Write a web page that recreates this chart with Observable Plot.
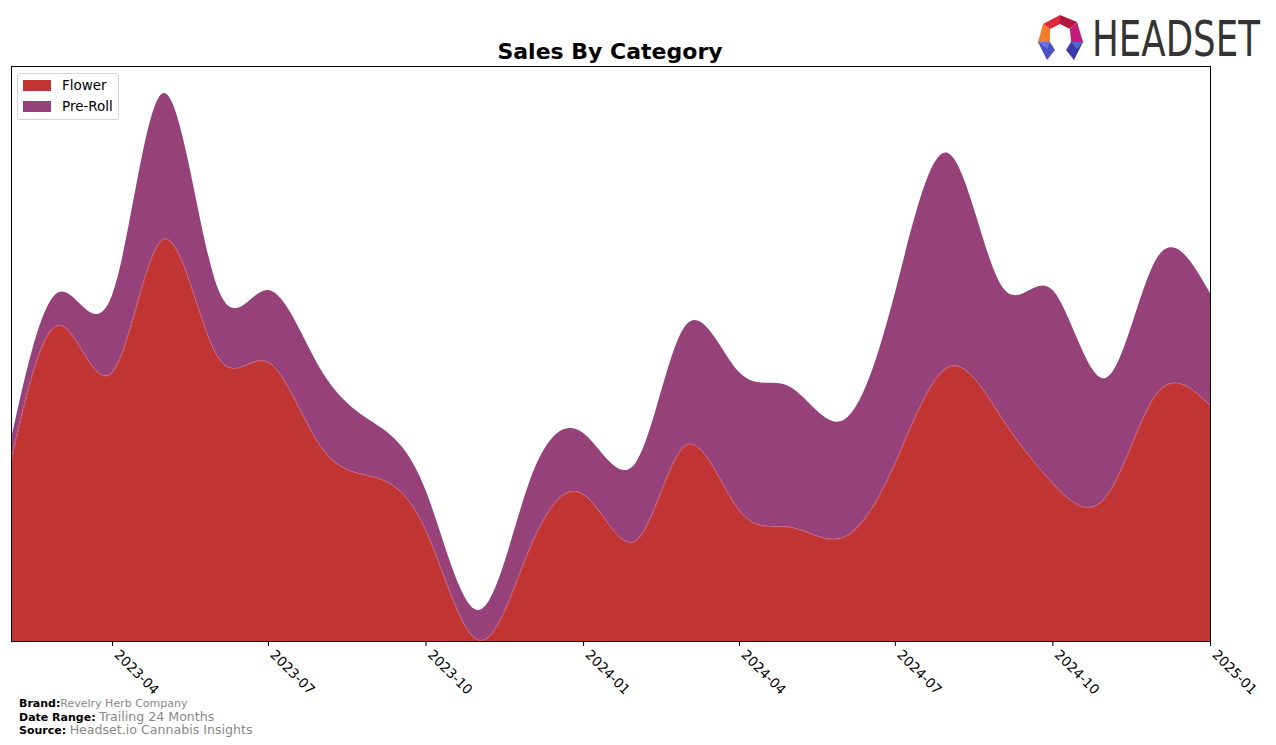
<!DOCTYPE html>
<html>
<head>
<meta charset="utf-8">
<script src="https://cdn.jsdelivr.net/npm/d3@7"></script>
<script src="https://cdn.jsdelivr.net/npm/@observablehq/plot@0.6"></script>
<style>
  html, body { margin: 0; padding: 0; background: #fff; }
  #wrap { position: relative; width: 1276px; height: 745px; overflow: hidden; font-family: "DejaVu Sans", sans-serif; }
  #chart { position: absolute; left: 0; top: 0; }
  #title { position: absolute; left: 410px; width: 400px; top: 39px; text-align: center; font-weight: bold; font-size: 22px; color: #000; white-space: nowrap; }
  #legend { position: absolute; left: 17px; top: 73px; width: 100px; height: 45px; border: 1px solid #d5d5d5; border-radius: 3px; background: #fff; font-size: 13.5px; }
  .li { position: absolute; left: 5px; height: 14px; display: flex; align-items: center; }
  .sw { width: 28px; height: 11px; margin-right: 11px; }
  #footer { position: absolute; left: 19px; top: 698px; font-size: 11px; line-height: 12.5px; color: #000; white-space: nowrap; }
  #footer b { font-weight: bold; }
  .g { color: #888; }
  .g2 { color: #888; font-size: 12.6px; }
  #logo { position: absolute; left: 1030px; top: 10px; }
</style>
</head>
<body>
<div id="wrap">
  <div id="chart"></div>
  <div id="title">Sales By Category</div>
  <div id="legend"></div>
  <svg id="logo" width="240" height="56" viewBox="1030 10 240 56">
    <polygon points="1043,24 1060,15 1060,24 1050,29" fill="#e0283c"/>
    <polygon points="1060,15 1077,22 1070,29 1060,24" fill="#b0163a"/>
    <polygon points="1043,24 1050,29 1050,42 1038,42" fill="#f47c2a"/>
    <polygon points="1077,22 1083,42 1071,42 1070,29" fill="#c21a78"/>
    <polygon points="1038,42 1050,42 1055,50 1047,60" fill="#4a4fc8"/>
    <polygon points="1071,42 1083,42 1074,60 1066,50" fill="#3a3aa8"/>
    <polygon points="1038,42 1050,42 1047,49" fill="#6a72e0"/>
    <polygon points="1071,42 1083,42 1077,49" fill="#5a62d8"/>
    <text transform="scale(1,1.38)" x="1092" y="40.6" font-family="'DejaVu Sans', sans-serif" font-size="36" fill="#333" textLength="168" lengthAdjust="spacingAndGlyphs">HEADSET</text>
  </svg>
  <div id="footer">
    <div><b>Brand:</b><span class="g">Revelry Herb Company</span></div>
    <div><b>Date Range:</b> <span class="g2">Trailing 24 Months</span></div>
    <div><b>Source:</b> <span class="g2">Headset.io Cannabis Insights</span></div>
  </div>
</div>
<script>
// Monthly data (arbitrary units)
const months = [
  "2023-02-01","2023-03-01","2023-04-01","2023-05-01","2023-06-01","2023-07-01",
  "2023-08-01","2023-09-01","2023-10-01","2023-11-01","2023-12-01","2024-01-01",
  "2024-02-01","2024-03-01","2024-04-01","2024-05-01","2024-06-01","2024-07-01",
  "2024-08-01","2024-09-01","2024-10-01","2024-11-01","2024-12-01","2025-01-01"
];
const flower = [181, 316, 269, 402, 286, 279, 194, 164, 111, 1, 94, 147,
                101, 196, 131, 114, 104, 178, 274, 224, 158, 144, 248, 236];
const preRoll = [20, 33, 77, 146, 70, 72, 77, 54, 40, 30, 67, 61,
                 78, 120, 138, 140, 117, 170, 214, 132, 193, 119, 135, 112];
const categories = ["Flower", "Pre-Roll"];
const colors = ["#c03434", "#964179"];
const tickLabels = ["2023-04","2023-07","2023-10","2024-01","2024-04","2024-07","2024-10","2025-01"];

const parse = d3.utcParse("%Y-%m-%d");
const parseTick = d3.utcParse("%Y-%m");
const tickDates = tickLabels.map(parseTick);
const rows = [];
months.forEach((m, i) => {
  rows.push({date: parse(m), category: "Flower", value: flower[i]});
  rows.push({date: parse(m), category: "Pre-Roll", value: preRoll[i]});
});
const flowerRows = rows.filter(d => d.category === "Flower");

const chart = Plot.plot({
  width: 1276,
  height: 745,
  marginLeft: 11,
  marginRight: 66,
  marginTop: 66,
  marginBottom: 104,
  style: {fontFamily: "'DejaVu Sans', sans-serif", fontSize: "13px", color: "#000", background: "transparent"},
  x: {type: "utc", domain: [parse(months[0]), parse(months[months.length - 1])]},
  y: {domain: [0, 575], axis: null},
  color: {domain: categories, range: colors},
  marks: [
    Plot.areaY(rows, {x: "date", y: "value", fill: "category", curve: "natural", order: categories, clip: true}),
    Plot.lineY(flowerRows, {x: "date", y: "value", stroke: "#d97a8e", strokeWidth: 0.6, strokeOpacity: 0.7, curve: "natural", clip: true}),
    // tick marks
    Plot.axisX({
      ticks: tickDates,
      tickFormat: () => "",
      tickSize: 5,
      label: null
    }),
    // tick labels
    Plot.axisX({
      ticks: tickDates,
      tickFormat: d3.utcFormat("%Y-%m"),
      tickRotate: 45,
      tickSize: 0,
      tickPadding: 9,
      dx: 4,
      dy: 2,
      label: null,
      fontSize: 13.5
    }),
    Plot.frame({stroke: "#000", strokeWidth: 1})
  ]
});
document.getElementById("chart").appendChild(chart);

const legend = document.getElementById("legend");
categories.forEach((c, i) => {
  const item = document.createElement("div");
  item.className = "li";
  item.style.top = (4 + i * 21) + "px";
  const sw = document.createElement("div");
  sw.className = "sw";
  sw.style.background = colors[i];
  const t = document.createElement("span");
  t.textContent = c;
  item.appendChild(sw);
  item.appendChild(t);
  legend.appendChild(item);
});
</script>
</body>
</html>
